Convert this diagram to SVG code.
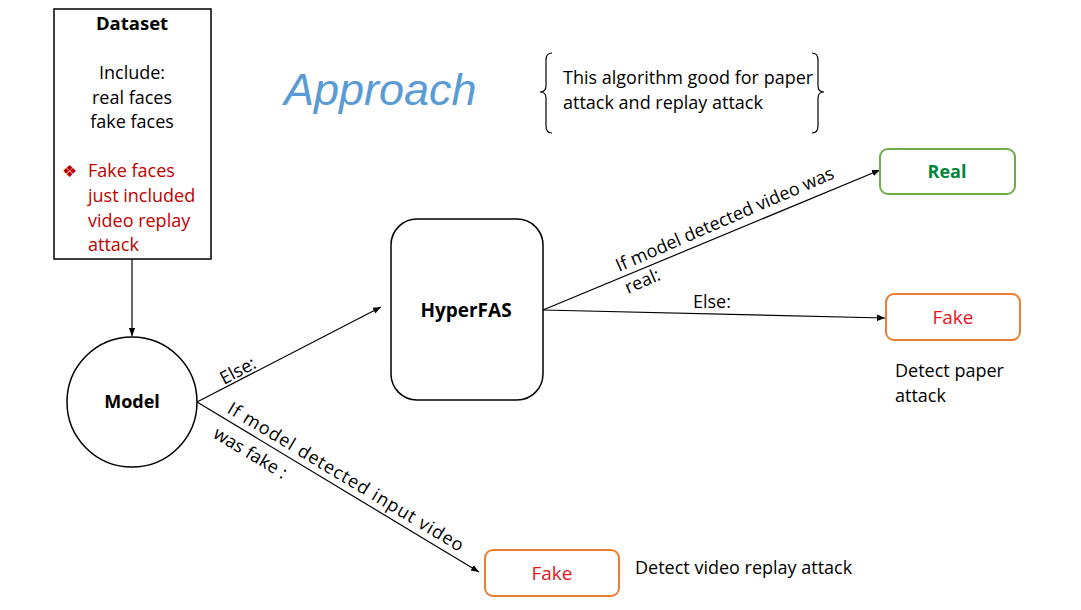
<svg xmlns="http://www.w3.org/2000/svg" width="1081" height="610" viewBox="0 0 1081 610">
<defs>
<marker id="arr" viewBox="0 0 10 10" refX="10" refY="5" markerWidth="8" markerHeight="8" markerUnits="userSpaceOnUse" orient="auto">
<path d="M0,1 L10,5 L0,9 z" fill="#000"/>
</marker>
<style>
text{font-family:"Open Sans","Liberation Sans",sans-serif;font-size:18px;fill:#000}
.b{font-weight:bold}
.c{text-anchor:middle}
.red{fill:#c00000}
.node{fill:#fff;stroke:#000;stroke-width:1.5}
.con{stroke:#000;stroke-width:1.2;fill:none;marker-end:url(#arr)}
.brace{stroke:#000;stroke-width:1.2;fill:none}
</style>
</defs>
<rect width="1081" height="610" fill="#fff"/>

<g id="connectors">
<line class="con" x1="132" y1="259" x2="132" y2="336"/>
<line class="con" x1="197" y1="402" x2="381" y2="307"/>
<line class="con" x1="197" y1="402" x2="479" y2="572"/>
<line class="con" x1="543" y1="310" x2="880" y2="170"/>
<line class="con" x1="543" y1="310" x2="885" y2="318"/>
<text transform="translate(224,385) rotate(-28)">Else:</text>
<text transform="translate(226,412) rotate(31)" textLength="272">If model detected input video</text>
<text transform="translate(212,437) rotate(31)">was fake :</text>
<text transform="translate(619,272) rotate(-23.5)" textLength="236">If model detected video was</text>
<text transform="translate(628,294) rotate(-23.5)">real:</text>
<text x="693" y="308">Else:</text>
</g>

<g id="dataset">
<rect class="node" x="54" y="9" width="157" height="250"/>
<text class="b c" x="132" y="30" style="font-size:18.5px">Dataset</text>
<text class="c" x="132" y="79">Include:</text>
<text class="c" x="132" y="104">real faces</text>
<text class="c" x="132" y="128">fake faces</text>
<text class="red" x="62" y="177" style="font-size:17px">❖</text>
<text class="red" x="88" y="177">Fake faces</text>
<text class="red" x="88" y="202">just included</text>
<text class="red" x="88" y="227">video replay</text>
<text class="red" x="88" y="251">attack</text>
</g>

<g id="title">
<text x="284" y="105" style="font-size:45px;font-style:italic;fill:#5b9bd5;font-family:'Liberation Sans',sans-serif">Approach</text>
</g>

<g id="note">
<path class="brace" d="M552,53 Q546,53 546,60 L546,86 Q546,92 540,92 Q546,92 546,98 L546,126 Q546,133 552,133"/>
<path class="brace" d="M812,53 Q818,53 818,60 L818,86 Q818,92 824,92 Q818,92 818,98 L818,126 Q818,133 812,133"/>
<text x="563" y="84">This algorithm good for paper</text>
<text x="563" y="109">attack and replay attack</text>
</g>

<g id="model">
<circle class="node" cx="132" cy="402" r="65"/>
<text class="b c" x="132" y="408">Model</text>
</g>

<g id="hyperfas">
<rect class="node" x="391" y="219" width="152" height="181" rx="26"/>
<text class="b c" x="466" y="317" style="font-size:19px">HyperFAS</text>
</g>

<g id="real">
<rect x="880" y="149" width="135" height="45" rx="8" fill="#fff" stroke="#70ad47" stroke-width="2"/>
<text class="b c" x="947" y="178" style="fill:#00853e">Real</text>
</g>

<g id="fake1">
<rect x="886" y="294" width="134" height="46" rx="8" fill="#fff" stroke="#ed7d31" stroke-width="2"/>
<text class="c" x="953" y="324" style="fill:#e8141c;font-size:19px">Fake</text>
<text x="895" y="377">Detect paper</text>
<text x="895" y="402">attack</text>
</g>

<g id="fake2">
<rect x="485" y="550" width="134" height="46" rx="8" fill="#fff" stroke="#ed7d31" stroke-width="2"/>
<text class="c" x="552" y="580" style="fill:#e8141c;font-size:19px">Fake</text>
<text x="635" y="574">Detect video replay attack</text>
</g>
</svg>
